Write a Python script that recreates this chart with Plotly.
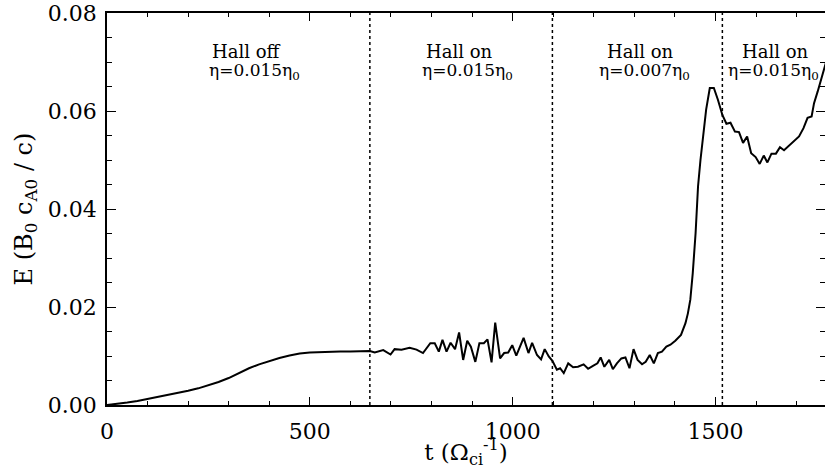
import plotly.graph_objects as go

# ---- data ----
t_vals = [0, 25, 50, 75, 100, 125, 150, 175, 200, 225, 250, 275, 300, 325, 350, 375,
          400, 425, 450, 475, 500, 525, 550, 575, 600, 625,
          648, 660, 681, 699, 709, 726, 746, 763, 779, 797, 808, 818, 827, 837, 847, 858,
          868, 878, 888, 897, 908, 918, 929, 938, 948, 957, 969, 979, 989, 999, 1009,
          1027, 1039, 1048, 1060, 1070, 1079, 1089, 1098, 1109,
          1117, 1126, 1137, 1149, 1161, 1175, 1186, 1198, 1209, 1217, 1226, 1238, 1247,
          1257, 1268, 1278, 1288, 1298, 1308, 1319, 1328, 1338, 1348, 1358, 1368, 1379,
          1389, 1401, 1415, 1426, 1432, 1438, 1444, 1451, 1457, 1463, 1470, 1477, 1486,
          1496, 1506, 1517, 1527, 1537, 1548, 1558, 1568, 1578, 1588, 1599, 1609, 1619,
          1628, 1638, 1649, 1659, 1669, 1686, 1706, 1717, 1727, 1737, 1743, 1752, 1761, 1772]

E_vals = [0.0000, 0.0002, 0.0005, 0.0008, 0.0012, 0.0016, 0.0020, 0.0024, 0.0029, 0.0034,
          0.0040, 0.0047, 0.0055, 0.0065, 0.0075, 0.0083, 0.0090, 0.0096, 0.0101, 0.0105,
          0.0107, 0.0108, 0.0109, 0.0109, 0.0109, 0.0110,
          0.0110, 0.0107, 0.0112, 0.0103, 0.0114, 0.0113, 0.0117, 0.0113, 0.0106, 0.0126,
          0.0126, 0.0109, 0.0133, 0.0109, 0.0127, 0.0114, 0.0148, 0.0092, 0.0131, 0.0119,
          0.0088, 0.0126, 0.0126, 0.0134, 0.0087, 0.0168, 0.0095, 0.0106, 0.0107, 0.0122,
          0.0101, 0.0137, 0.0106, 0.0127, 0.0102, 0.0093, 0.0114, 0.0099, 0.0090, 0.0072,
          0.0075, 0.0065, 0.0085, 0.0077, 0.0078, 0.0083, 0.0074, 0.0080, 0.0085, 0.0097,
          0.0078, 0.0092, 0.0073, 0.0085, 0.0095, 0.0097, 0.0075, 0.0114, 0.0092, 0.0083,
          0.0088, 0.0102, 0.0085, 0.0106, 0.0109, 0.0119, 0.0123, 0.0131, 0.0143, 0.0167,
          0.0187, 0.0215, 0.0269, 0.0351, 0.0446, 0.0500, 0.0548, 0.0603, 0.0647, 0.0647,
          0.0623, 0.0592, 0.0574, 0.0576, 0.0558, 0.0557, 0.0535, 0.0548, 0.0514, 0.0506,
          0.0492, 0.0509, 0.0495, 0.0513, 0.0513, 0.0526, 0.0520, 0.0533, 0.0548, 0.0565,
          0.0586, 0.0589, 0.0616, 0.0640, 0.0664, 0.0698]

phase_switch_t = [648, 1098, 1517]
phase_titles = ["Hall off", "Hall on", "Hall on", "Hall on"]
phase_eta = ["η=0.015η<sub>0</sub>", "η=0.015η<sub>0</sub>",
             "η=0.007η<sub>0</sub>", "η=0.015η<sub>0</sub>"]
title_x = [345, 868, 1314, 1647]
eta_x = [364, 889, 1326, 1644]

x_range = [0, 1770]
y_range = [0, 0.08]

FONT = "DejaVu Serif"

fig = go.Figure()
fig.add_trace(go.Scatter(x=t_vals, y=E_vals, mode="lines",
                         line=dict(color="black", width=2), showlegend=False,
                         hoverinfo="skip"))
# invisible trace to carry the right-hand tick axis
fig.add_trace(go.Scatter(x=t_vals, y=E_vals, mode="lines", yaxis="y2",
                         line=dict(color="rgba(0,0,0,0)", width=0), showlegend=False,
                         hoverinfo="skip"))

for xs in phase_switch_t:
    fig.add_shape(type="line", x0=xs, x1=xs, xref="x", y0=0, y1=1, yref="paper",
                  line=dict(color="black", width=1.5, dash="dot"))

for i in range(len(phase_titles)):
    fig.add_annotation(x=title_x[i], y=0.903, xref="x", yref="paper",
                       text=phase_titles[i], showarrow=False, xanchor="center",
                       yanchor="middle", font=dict(family=FONT, size=18, color="black"))
    fig.add_annotation(x=eta_x[i], y=0.852, xref="x", yref="paper",
                       text=phase_eta[i], showarrow=False, xanchor="center",
                       yanchor="middle", font=dict(family=FONT, size=17, color="black"))

fig.update_layout(
    width=825, height=469,
    margin=dict(l=107, r=0, t=13, b=64),
    paper_bgcolor="white", plot_bgcolor="white",
    font=dict(family=FONT, size=22, color="black"),
    xaxis=dict(range=x_range, showgrid=False, zeroline=False,
               showline=True, linecolor="black", linewidth=1.5, mirror="ticks",
               ticks="inside", ticklen=8, tickwidth=1, tickcolor="black",
               tick0=0, dtick=500,
               minor=dict(ticks="inside", ticklen=4, dtick=100, tickcolor="black", showgrid=False),
               ticklabelstandoff=6,
               title=dict(text="t (Ω<sub>ci</sub><sup>-1</sup>)", standoff=5,
                          font=dict(family=FONT, size=23))),
    yaxis=dict(range=y_range, showgrid=False, zeroline=False,
               showline=True, linecolor="black", linewidth=1.5,
               ticks="inside", ticklen=9, tickwidth=1, tickcolor="black",
               tick0=0, dtick=0.02, tickformat=".2f",
               minor=dict(ticks="inside", ticklen=5, dtick=0.005, tickcolor="black", showgrid=False),
               ticklabelstandoff=4,
               title=dict(text="E (B<sub>0</sub> c<sub>A0</sub> / c)", standoff=8,
                          font=dict(family=FONT, size=24))),
    yaxis2=dict(range=y_range, overlaying="y", side="right", showgrid=False,
                zeroline=False, showline=False, showticklabels=False,
                ticks="inside", ticklen=9, tickwidth=1, tickcolor="black",
                tick0=0, dtick=0.02,
                minor=dict(ticks="inside", ticklen=5, dtick=0.005, tickcolor="black", showgrid=False)),
)

fig.write_html("out.html")
